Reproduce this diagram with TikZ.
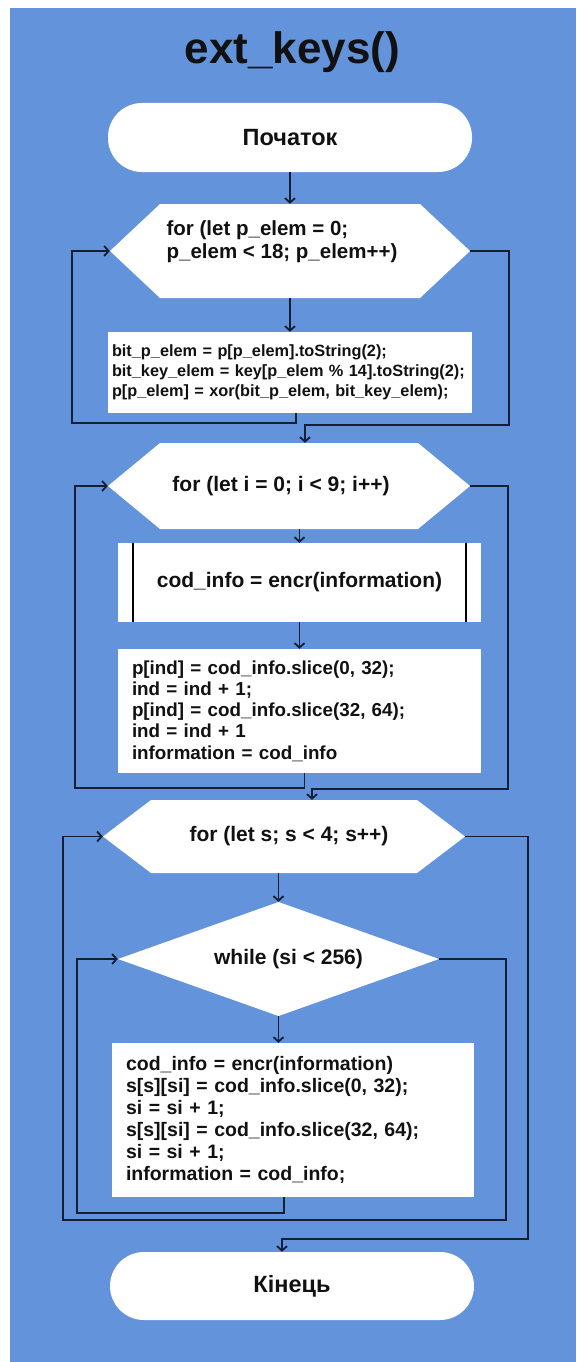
\documentclass[tikz,border=0pt]{standalone}
\usepackage{fontspec}
\setmainfont{Liberation Sans}
\usetikzlibrary{arrows.meta,calc}

\definecolor{panel}{RGB}{99,147,218}
\definecolor{ink}{RGB}{20,30,52}
\definecolor{txt}{RGB}{17,17,17}

% bold text at a given size / line spacing
\newcommand\fsb[2]{\fontsize{#1}{#2}\selectfont\bfseries}

\begin{document}
\begin{tikzpicture}[x=1pt,y=-1pt,
  every node/.style={text=txt},
  term/.style={rectangle, fill=white, rounded corners=34pt, inner sep=0pt,
    minimum width=364pt, font=\fsb{23.5}{27}},
  proc/.style={rectangle, fill=white, inner ysep=0pt, align=left},
  hexa/.style={rectangle, inner sep=0pt, fill=panel, font=\fsb{21}{25},
    path picture={\fill[white] (path picture bounding box.west)
      -- ([xshift=#1]path picture bounding box.north west)
      -- ([xshift=-#1]path picture bounding box.north east)
      -- (path picture bounding box.east)
      -- ([xshift=-#1]path picture bounding box.south east)
      -- ([xshift=#1]path picture bounding box.south west) -- cycle;}},
  dia/.style={rectangle, inner sep=0pt, fill=panel, font=\fsb{21}{25},
    path picture={\fill[white] (path picture bounding box.west)
      -- (path picture bounding box.north)
      -- (path picture bounding box.east)
      -- (path picture bounding box.south) -- cycle;}},
  flow/.style={draw=ink, line width=1.8pt},
  arr/.style={flow, -{Straight Barb[length=4.5pt,width=10pt]}},
]
% page and panel
\fill[white] (0,0) rectangle (576,1362);
\fill[panel] (10,8) rectangle (576,1362);

% title
\node[anchor=base, font=\fsb{44}{50}] (title) at (292.5,64) {ext\_keys()};

% start
\node[term, minimum height=69pt] (start) at (290,137.5) {Початок};

% first loop
\node[hexa=50pt, minimum width=360pt, minimum height=94pt] (h1) at (290,251) {};
\node[align=left, inner sep=0pt, font=\fsb{20.5}{23}] (h1t) at (282,241.5)
  {for (let p\_elem = 0;\\p\_elem < 18; p\_elem++)};
\node[proc, minimum width=364pt, minimum height=81pt, inner xsep=4pt,
  text width=356pt, font=\fsb{16.3}{20}] (b1) at (290,372.5)
  {bit\_p\_elem = p[p\_elem].toString(2);\\
   bit\_key\_elem = key[p\_elem \% 14].toString(2);\\
   p[p\_elem] = xor(bit\_p\_elem, bit\_key\_elem);};

% second loop
\node[hexa=52pt, minimum width=362pt, minimum height=86pt] (h2) at (289,486)
  {\hspace*{-16pt}for (let i = 0; i < 9; i++)};
\node[rectangle, fill=white, inner sep=0pt, minimum width=363pt,
  minimum height=79pt, font=\fsb{21}{25}] (sub) at (299.5,582.5)
  {cod\_info = encr(information)};
\draw[black, line width=2pt] ([xshift=15pt]sub.north west) -- ([xshift=15pt]sub.south west);
\draw[black, line width=2pt] ([xshift=-15pt]sub.north east) -- ([xshift=-15pt]sub.south east);
\node[proc, minimum width=363pt, minimum height=124pt, inner xsep=14pt,
  text width=335pt, font=\fsb{18.8}{21.3}] (b3) at (299.5,711)
  {p[ind] = cod\_info.slice(0, 32);\\
   ind = ind + 1;\\
   p[ind] = cod\_info.slice(32, 64);\\
   ind = ind + 1\\
   information = cod\_info};

% third loop
\node[hexa=48pt, minimum width=362pt, minimum height=73pt] (h3) at (284,836.5)
  {\hspace*{10pt}for (let s; s < 4; s++)};
\node[dia, minimum width=321pt, minimum height=114pt] (d) at (278.5,959)
  {\hspace*{20pt}while (si < 256)};
\node[proc, minimum width=362pt, minimum height=154pt, inner xsep=14pt,
  text width=334pt, font=\fsb{19.5}{22}] (b4) at (293,1120)
  {cod\_info = encr(information)\\
   s[s][si] = cod\_info.slice(0, 32);\\
   si = si + 1;\\
   s[s][si] = cod\_info.slice(32, 64);\\
   si = si + 1;\\
   information = cod\_info;};

% end
\node[term, minimum height=68pt] (e) at (292,1286) {Кінець};

% straight flow
\draw[arr] (start.south) -- (h1.north);
\draw[arr] (h1.south) -- (b1.north);
\draw[arr] (sub.north |- h2.south) -- (sub.north);
\draw[arr] (sub.south) -- (b3.north);
\draw[arr] (d.north |- h3.south) -- (d.north);
\draw[arr] (d.south) -- (d.south |- b4.north);

% loop 1
\coordinate (l1) at (72,423);
\coordinate (r1) at (509,425);
\draw[arr] ([xshift=6pt]b1.south) |- (l1) |- (h1.west);
\draw[arr] (h1.east) -| (r1) -| ([xshift=16pt]h2.north);

% loop 2
\coordinate (l2) at (75,788);
\coordinate (r2) at (508,789);
\draw[arr] ([xshift=5pt]b3.south) |- (l2) |- (h2.west);
\draw[arr] (h2.east) -| (r2) -| ([xshift=28pt]h3.north);

% loop 3 with inner while
\coordinate (l3) at (77,1213);
\coordinate (l4) at (63,1220);
\coordinate (r3) at (506,1220);
\coordinate (r4) at (528,1239);
\draw[arr] ([xshift=-9pt]b4.south) |- (l3) |- (d.west);
\draw[arr] (d.east) -| (r3) -- (l4) |- (h3.west);
\draw[arr] (h3.east) -| (r4) -| ([xshift=-10pt]e.north);
\end{tikzpicture}
\end{document}
